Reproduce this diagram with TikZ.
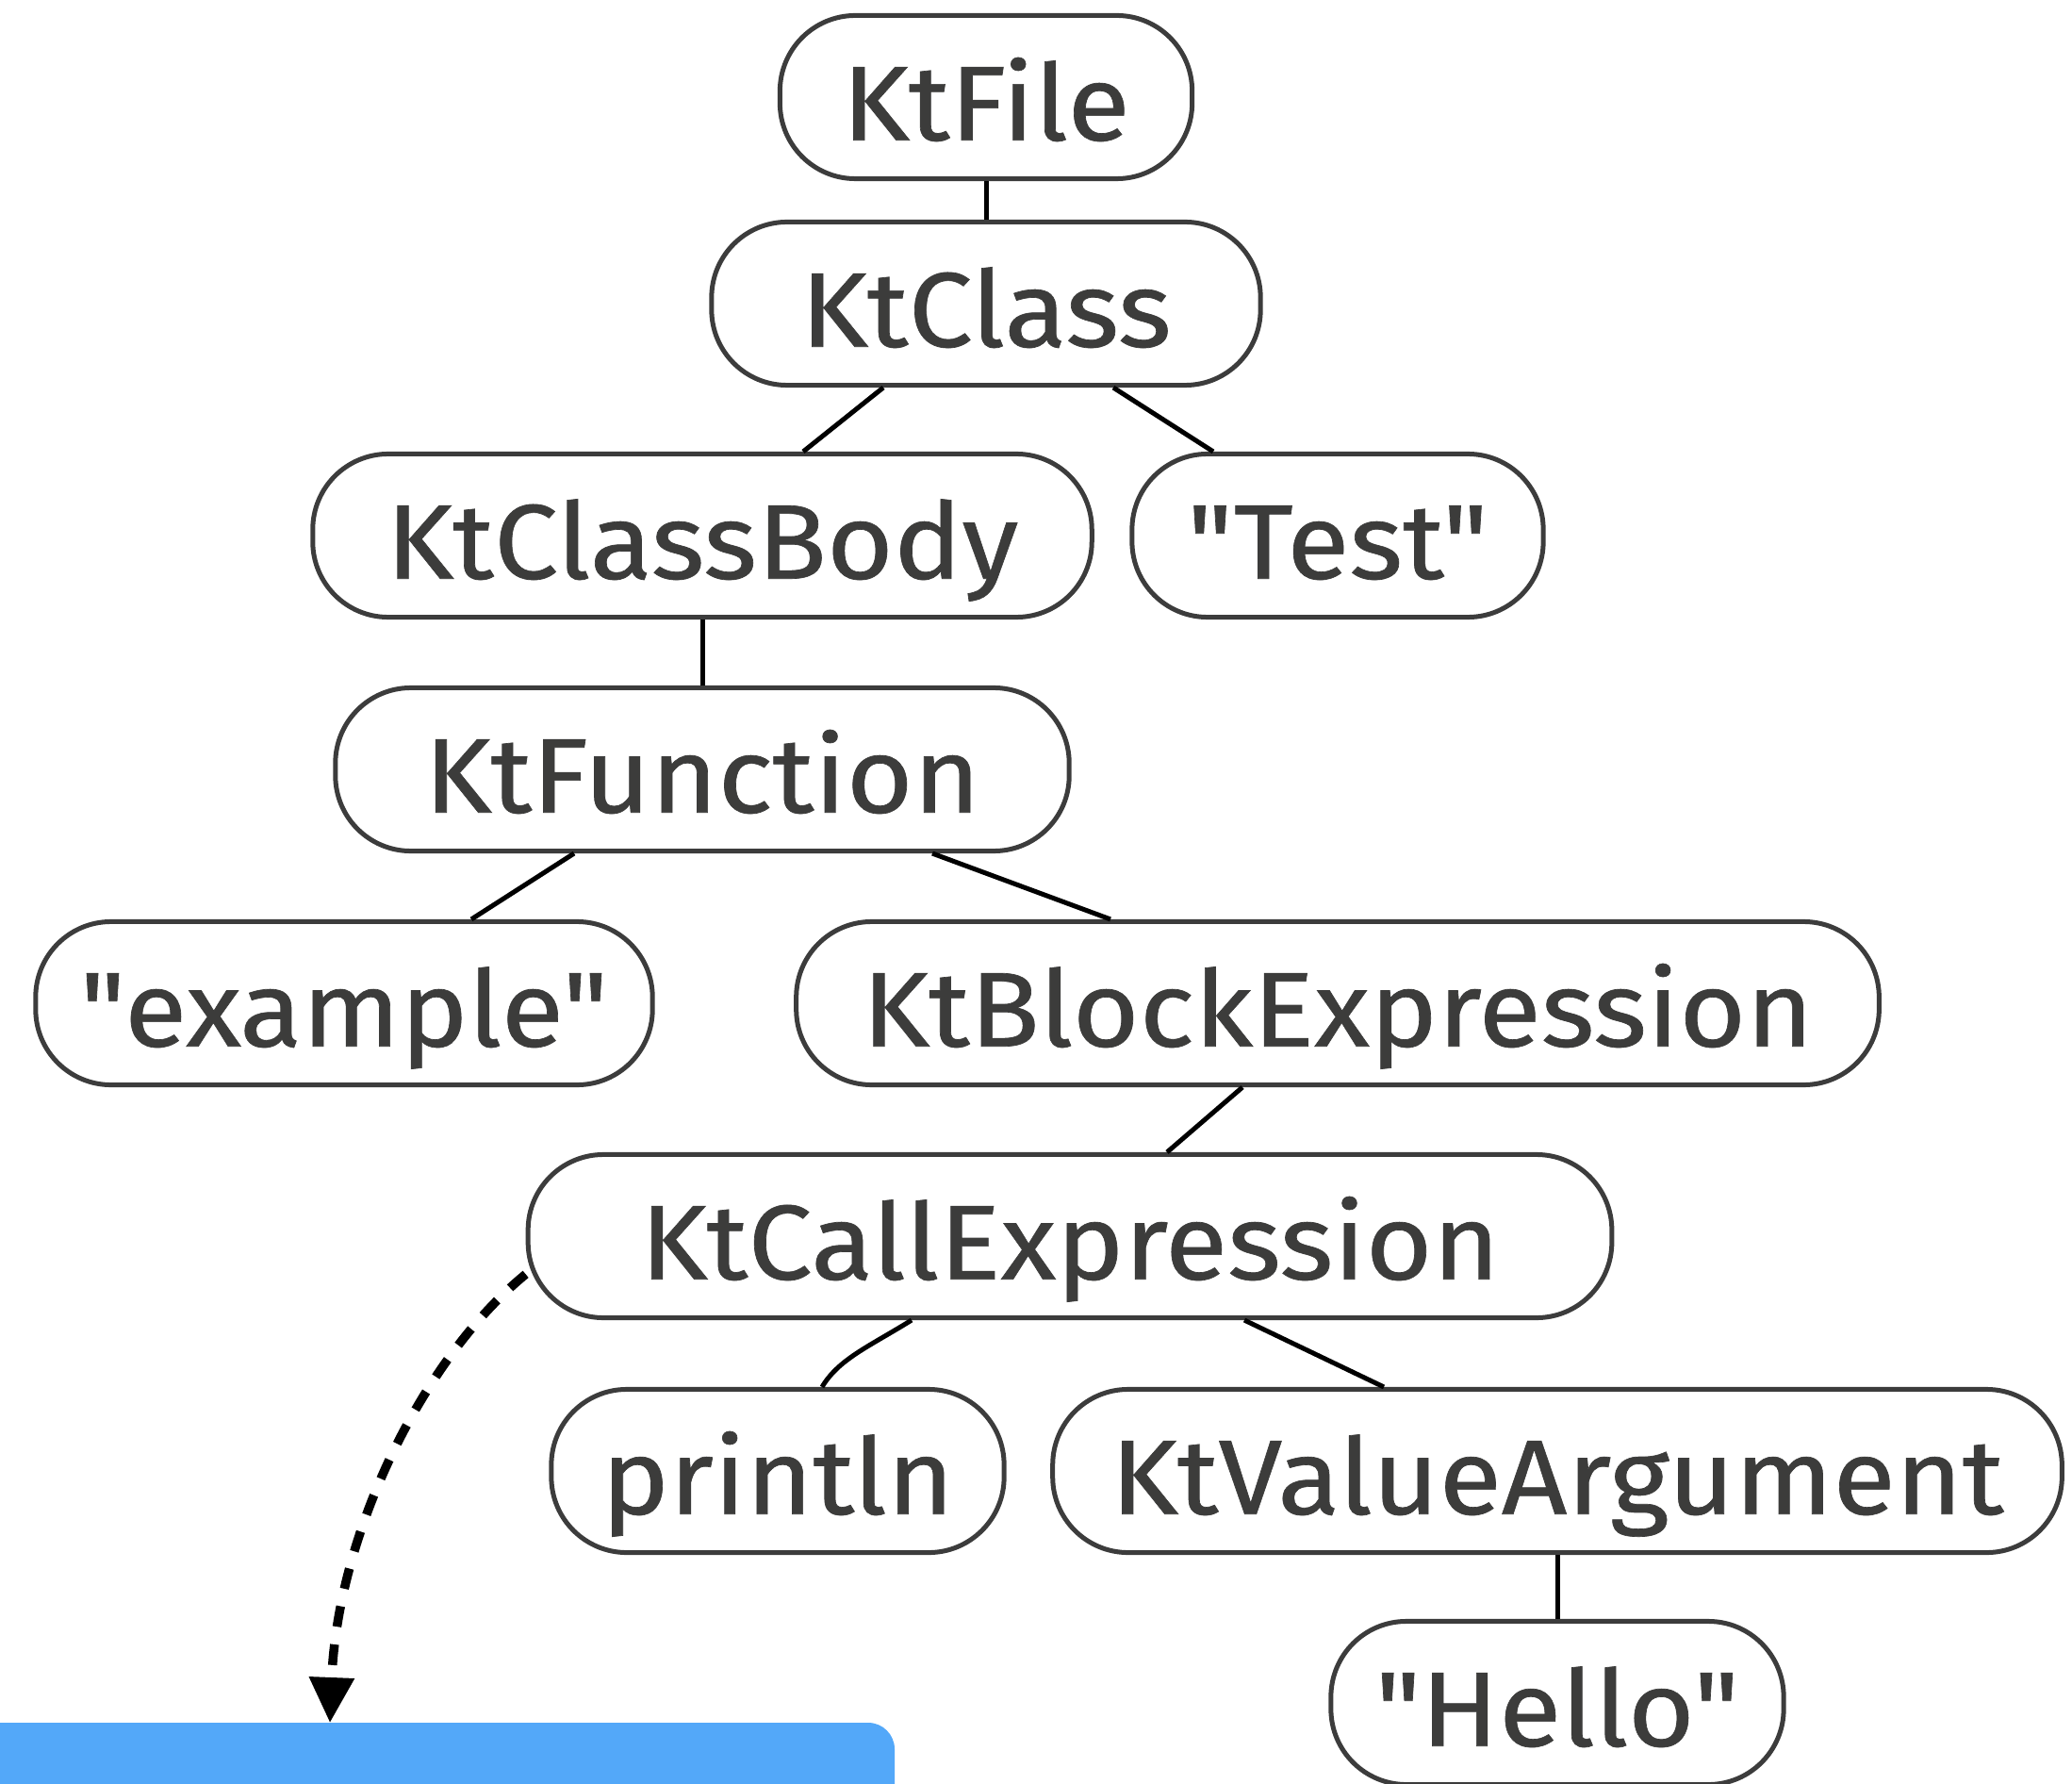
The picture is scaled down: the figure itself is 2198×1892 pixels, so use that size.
\documentclass[tikz,border=0pt]{standalone}
\usepackage{fontspec}
\setmainfont{Fira Sans}[Ligatures=TeXOff, FakeStretch=1.08, FakeBold=0.6]
\usetikzlibrary{arrows.meta,calc}
\definecolor{ink}{HTML}{3C3C3B}
\definecolor{edgegray}{HTML}{3C3C3C}
\definecolor{skyblue}{HTML}{53A8F9}
\tikzset{
  ast/.style={draw=edgegray, line width=0.05cm, rounded corners=0.8cm,
    minimum height=1.73cm, inner sep=0pt, text=ink,
    font=\fontsize{32}{38}\selectfont, text height=26pt, text depth=0pt},
  link/.style={line width=0.05cm, black},
  flow/.style={line width=0.095cm, dash pattern=on 0.22cm off 0.19cm,
    -{Triangle[length=0.48cm,width=0.46cm]}},
}
\begin{document}
\begin{tikzpicture}[x=0.01cm,y=-0.01cm]
\useasboundingbox (0,0) rectangle (2198,1892);
% blue box at the bottom
\fill[skyblue, rounded corners=0.28cm] (-60,1827) rectangle (949,2000);
\coordinate (target) at (350,1827);

\node[ast, minimum width=4.37cm]  (file)   at (1046,103)  {KtFile};
\node[ast, minimum width=5.82cm]  (class)  at (1046,322)  {KtClass};
\node[ast, minimum width=8.26cm]  (body)   at (745,568)   {KtClassBody};
\node[ast, minimum width=4.36cm]  (test)   at (1419,568)  {"Test"};
\node[ast, minimum width=7.78cm]  (func)   at (745,816)   {KtFunction};
\node[ast, minimum width=6.54cm]  (ex)     at (365,1064)  {"example"};
\node[ast, minimum width=11.48cm] (block)  at (1419,1064) {KtBlockExpression};
\node[ast, minimum width=11.49cm] (call)   at (1135,1311) {KtCallExpression};
\node[ast, minimum width=4.80cm]  (print)  at (825,1560)  {println};
\node[ast, minimum width=10.70cm] (valarg) at (1652,1560) {KtValueArgument};
\node[ast, minimum width=4.80cm]  (hello)  at (1652,1806) {"Hello"};

\draw[link] (file.south) -- (class.north);
\draw[link] ($(class.south)+(-109,0)$) -- ($(body.north)+(107,0)$);
\draw[link] ($(class.south)+(135,0)$) -- ($(test.north)+(-132,0)$);
\draw[link] (body.south) -- (func.north);
\draw[link] ($(func.south)+(-136,0)$) -- ($(ex.north)+(135,0)$);
\draw[link] ($(func.south)+(244,0)$) -- ($(block.north)+(-241,0)$);
\draw[link] ($(block.south)+(-101,0)$) -- ($(call.north)+(103,0)$);
\draw[link] ($(call.south)+(-168,0)$) .. controls +(-45,28) and +(18,-30) .. ($(print.north)+(47,0)$);
\draw[link] ($(call.south)+(185,0)$) -- ($(valarg.north)+(-184,0)$);
\draw[link] (valarg.south) -- (hello.north);

\draw[flow] (call.184.6) .. controls +(-110,90) and +(8,-200) .. (target);
\end{tikzpicture}
\end{document}
